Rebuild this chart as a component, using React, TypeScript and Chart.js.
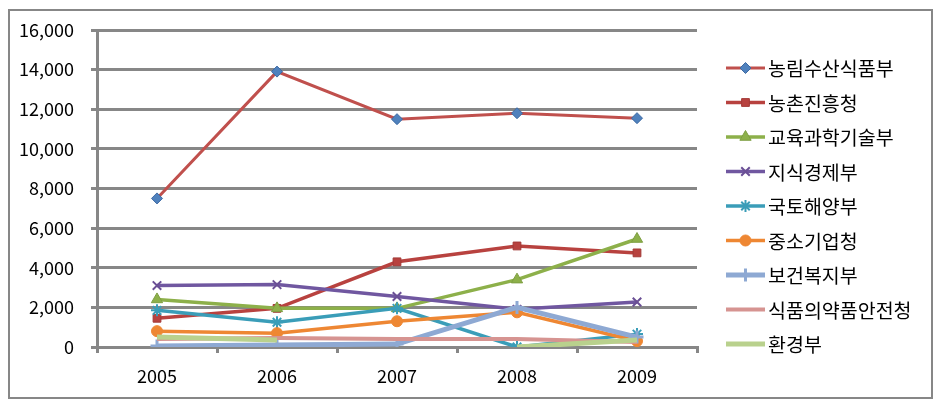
import React, { useEffect, useRef } from "react";
import { Chart, registerables } from "chart.js";
import { drawPoint } from "chart.js/helpers";

Chart.register(...registerables);

const years = ["2005", "2006", "2007", "2008", "2009"];
const seriesNames = [
  "농림수산식품부",
  "농촌진흥청",
  "교육과학기술부",
  "지식경제부",
  "국토해양부",
  "중소기업청",
  "보건복지부",
  "식품의약품안전청",
  "환경부",
];
const agriFood = [7500, 13900, 11500, 11800, 11550];
const ruralDev = [1450, 1950, 4300, 5100, 4750];
const education = [2400, 1950, 1950, 3400, 5450];
const knowledgeEcon = [3100, 3150, 2550, 1900, 2270];
const landMaritime = [1850, 1250, 1950, 0, 650];
const smallBiz = [800, 700, 1300, 1750, 300];
const healthWelfare = [50, 100, 150, 2000, 500];
const foodDrug = [400, 450, 400, 400, 250];
const environment: (number | null)[] = [500, 350, null, 0, 350];
const yTicks = [0, 2000, 4000, 6000, 8000, 10000, 12000, 14000, 16000];

const seriesValues = [
  agriFood,
  ruralDev,
  education,
  knowledgeEcon,
  landMaritime,
  smallBiz,
  healthWelfare,
  foodDrug,
  environment,
];

const styles = [
  { line: "#C0504D", fill: "#4F81BD", stroke: "#3E6AA3", point: "rectRot", r: 5.5, lw: 3, pbw: 1 },
  { line: "#B8423F", fill: "#B8423F", stroke: "#A33A37", point: "rect", r: 5.5, lw: 3.5, pbw: 1 },
  { line: "#8DB04A", fill: "#8DB04A", stroke: "#7E9F42", point: "triangle", r: 6.5, lw: 3.5, pbw: 1 },
  { line: "#7057A0", fill: "#7057A0", stroke: "#6A4F95", point: "crossRot", r: 6, lw: 3.5, pbw: 2 },
  { line: "#3A9DB8", fill: "#3A9DB8", stroke: "#3A9DB8", point: "star", r: 6, lw: 3.5, pbw: 2 },
  { line: "#EE8733", fill: "#EE8733", stroke: "#EE8733", point: "circle", r: 5.5, lw: 3.5, pbw: 1 },
  { line: "#8EA9D3", fill: "#8EA9D3", stroke: "#8EA9D3", point: "cross", r: 6.5, lw: 5, pbw: 3 },
  { line: "#D69491", fill: "#D69491", stroke: "#D69491", point: false, r: 0, lw: 4, pbw: 0 },
  { line: "#B9D18D", fill: "#B9D18D", stroke: "#B9D18D", point: false, r: 0, lw: 5, pbw: 0 },
];

const GRID = "#878787";
const FONT = '"Noto Sans CJK KR", "Noto Sans", sans-serif';

const framePlugin = {
  id: "frameAndLegend",
  beforeDraw(chart: any) {
    const ctx = chart.ctx;
    ctx.save();
    ctx.fillStyle = "#ffffff";
    ctx.fillRect(0, 0, chart.width, chart.height);
    ctx.restore();
  },
  afterDraw(chart: any) {
    const ctx = chart.ctx;
    ctx.save();
    ctx.strokeStyle = GRID;
    ctx.lineWidth = 2;
    ctx.strokeRect(1, 2, 923, 388);
    // legend
    const x0 = 718;
    const x1 = 757;
    const tx = 760;
    chart.data.datasets.forEach((ds: any, i: number) => {
      const st = styles[i];
      const y = 60 + i * 34.5;
      ctx.beginPath();
      ctx.strokeStyle = st.line;
      ctx.lineWidth = st.lw;
      ctx.lineCap = "butt";
      ctx.moveTo(x0, y);
      ctx.lineTo(x1, y);
      ctx.stroke();
      if (st.point) {
        ctx.fillStyle = st.fill;
        ctx.strokeStyle = st.stroke;
        ctx.lineWidth = st.pbw;
        drawPoint(ctx, { pointStyle: st.point, radius: st.r, rotation: 0, borderWidth: st.pbw } as any, (x0 + x1) / 2, y);
      }
      ctx.fillStyle = "#000000";
      ctx.font = `19.5px ${FONT}`;
      ctx.textAlign = "left";
      ctx.textBaseline = "middle";
      ctx.fillText(ds.label, tx, y + 1);
    });
    ctx.restore();
  },
};

export default function App() {
  const ref = useRef<HTMLCanvasElement | null>(null);
  useEffect(() => {
    if (!ref.current) return;
    const datasets = seriesNames.map((name, i) => {
      const st = styles[i];
      return {
        label: name,
        data: seriesValues[i],
        borderColor: st.line,
        backgroundColor: st.fill,
        borderWidth: st.lw,
        pointStyle: st.point,
        pointRadius: st.r,
        pointBackgroundColor: st.fill,
        pointBorderColor: st.stroke,
        pointBorderWidth: st.pbw,
        tension: 0,
        spanGaps: false,
        fill: false,
        order: 9 - i,
      };
    });
    const chart = new Chart(ref.current, {
      type: "line",
      data: { labels: years, datasets: datasets as any },
      options: {
        animation: false,
        responsive: false,
        devicePixelRatio: 1,
        layout: { padding: { top: 22, right: 239, bottom: 0, left: 0 } },
        plugins: { legend: { display: false }, tooltip: { enabled: false } },
        scales: {
          x: {
            type: "category",
            offset: true,
            afterFit: (s: any) => {
              s.height = 53;
              s.paddingLeft = 0;
              s.paddingRight = 0;
            },
            grid: {
              offset: true,
              drawOnChartArea: false,
              drawTicks: true,
              tickLength: 6,
              color: GRID,
              lineWidth: 3,
            },
            border: { display: true, color: GRID, width: 3 },
            ticks: {
              color: "#000",
              padding: 12,
              font: { family: FONT, size: 18 },
              maxRotation: 0,
            },
          },
          y: {
            min: 0,
            max: 16000,
            afterFit: (s: any) => {
              s.width = 89;
              s.paddingTop = 0;
              s.paddingBottom = 0;
            },
            afterBuildTicks: (s: any) => {
              s.ticks = yTicks.map((v) => ({ value: v }));
            },
            grid: { color: GRID, lineWidth: 3, tickLength: 6, drawTicks: true },
            border: { display: true, color: GRID, width: 3 },
            ticks: {
              color: "#000",
              padding: 17,
              font: { family: FONT, size: 18 },
              callback: (v: any) => Number(v).toLocaleString("en-US"),
            },
          },
        },
      },
      plugins: [framePlugin],
    });
    return () => chart.destroy();
  }, []);
  return (
    <div style={{ width: 928, height: 392 }}>
      <canvas ref={ref} width={928} height={392} style={{ display: "block" }} />
    </div>
  );
}
